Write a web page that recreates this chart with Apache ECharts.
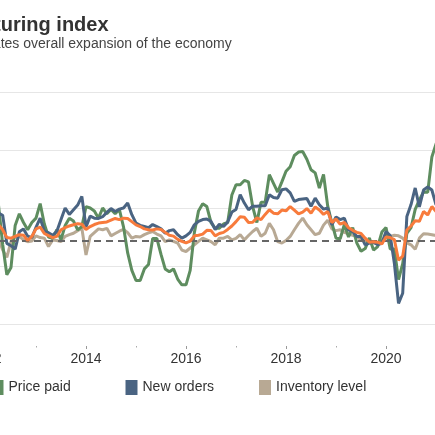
<!DOCTYPE html>
<html>
<head>
<meta charset="utf-8">
<script src="https://cdn.jsdelivr.net/npm/echarts@6/dist/echarts.min.js"></script>
<style>
  html, body { margin: 0; padding: 0; background: #fff; overflow: hidden; width: 435px; height: 435px; }
  #chart { position: absolute; left: -150px; top: 0; width: 600px; height: 435px; }
</style>
</head>
<body>
<div id="chart"></div>
<script>
// monthly readings, Jan 2012 .. Feb 2021
const startYear = 2012;
const monthCount = 110;
const months = [];
for (let i = 0; i < monthCount; i++) {
    const y = startYear + Math.floor(i / 12);
    const m = (i % 12) + 1;
    months.push(y + '-' + (m < 10 ? '0' + m : m));
}

const seriesNames = ['PMI', 'Price paid', 'New orders', 'Inventory level'];

const pmi = [
    54.5, 53.5, 53.5, 54.2, 52.5, 49.8, 49.6, 50.2, 50.8, 50.6, 48.8, 50.2,
    52.8, 53.4, 51.2, 50.5, 49.8, 50.2, 52.5, 53.2, 53.8, 54.2, 54.6, 54.4,
    52.6, 53.6, 54.3, 54.8, 55.0, 55.2, 55.8, 56.4, 56.0, 56.5, 56.4, 55.3,
    54.2, 53.6, 52.8, 52.5, 52.4, 52.8, 52.6, 51.6, 50.6, 50.3, 49.2, 48.5,
    48.0, 48.6, 50.4, 50.6, 51.0, 52.3, 52.2, 50.4, 51.2, 51.6, 52.6, 53.8,
    55.3, 57.0, 56.8, 55.0, 55.1, 56.6, 56.0, 57.8, 59.4, 58.2, 58.0, 59.3,
    59.0, 60.5, 59.3, 58.0, 58.6, 59.8, 58.2, 60.4, 59.3, 57.8, 58.8, 55.0,
    56.2, 54.4, 55.0, 53.2, 52.3, 51.6, 51.2, 49.6, 48.2, 48.4, 48.2, 47.6,
    50.0, 49.8, 49.1, 42.0, 43.4, 52.4, 53.8, 55.6, 55.4, 58.8, 57.6, 60.5,
    58.8, 60.8
];

const pricePaid = [
    55.5, 61.5, 61.0, 61.0, 47.5, 37.0, 39.5, 54.0, 58.0, 55.0, 52.5, 55.0,
    56.5, 61.5, 54.5, 50.0, 49.5, 52.5, 49.0, 54.0, 56.5, 55.5, 52.5, 53.5,
    60.5, 60.0, 59.0, 56.5, 60.0, 58.0, 59.5, 58.0, 59.5, 53.5, 44.5, 38.5,
    35.0, 35.0, 39.0, 40.5, 49.5, 49.5, 44.0, 39.0, 38.0, 39.0, 35.5, 33.5,
    33.5, 38.5, 51.5, 59.0, 61.5, 60.5, 55.0, 53.0, 53.0, 54.5, 55.0, 64.5,
    68.0, 68.0, 69.5, 69.0, 60.5, 55.0, 62.0, 62.0, 71.5, 68.5, 65.5, 69.0,
    72.7, 74.2, 78.1, 79.3, 79.5, 76.8, 73.2, 72.1, 66.9, 71.6, 60.7, 54.9,
    49.6, 49.4, 54.3, 50.0, 53.2, 47.9, 45.1, 46.0, 49.7, 45.5, 46.7, 51.7,
    53.3, 45.9, 45.9, 35.3, 40.8, 51.3, 53.2, 59.5, 62.8, 65.5, 65.4, 77.6,
    82.1, 86.0
];

const newOrders = [
    57.6, 54.9, 54.5, 58.2, 57.5, 47.8, 47.0, 45.8, 51.8, 52.8, 50.3, 49.8,
    53.3, 56.5, 52.0, 51.5, 50.6, 52.0, 56.0, 60.0, 57.8, 59.4, 61.0, 64.0,
    53.5, 57.2, 56.5, 56.4, 57.0, 58.5, 59.8, 58.8, 59.6, 60.0, 61.7, 57.7,
    54.8, 54.0, 53.6, 53.2, 54.3, 53.6, 52.8, 51.3, 52.2, 52.5, 50.8, 49.6,
    50.4, 51.6, 54.2, 55.4, 56.0, 56.2, 55.4, 52.6, 54.4, 53.6, 55.2, 58.6,
    59.5, 64.6, 61.7, 59.4, 60.6, 60.6, 60.8, 60.8, 64.6, 63.6, 63.4, 66.3,
    66.6, 65.2, 62.3, 62.9, 63.1, 63.3, 60.6, 63.4, 61.1, 59.6, 60.0, 54.2,
    56.9, 56.0, 56.5, 52.5, 51.9, 50.2, 50.2, 47.3, 47.9, 48.2, 47.3, 47.9,
    51.9, 50.5, 40.9, 27.1, 30.6, 57.1, 61.2, 66.9, 60.4, 66.2, 67.3, 66.2,
    61.1, 64.8
];

const inventory = [
    51.0, 50.5, 51.5, 49.6, 45.5, 43.0, 48.5, 50.0, 50.2, 49.0, 48.4, 48.6,
    50.4, 49.8, 49.6, 46.7, 49.0, 48.8, 48.4, 50.2, 50.8, 51.3, 52.2, 53.0,
    43.8, 50.2, 51.5, 52.8, 52.5, 53.0, 50.4, 51.2, 52.0, 52.6, 51.5, 49.6,
    50.2, 50.0, 50.8, 51.4, 51.9, 51.0, 50.4, 48.4, 49.0, 48.5, 47.9, 45.5,
    45.0, 46.2, 47.3, 48.5, 49.6, 49.0, 48.4, 47.3, 49.6, 49.6, 50.2, 49.0,
    49.5, 50.8, 49.0, 50.5, 51.9, 53.0, 50.2, 51.3, 54.7, 52.5, 48.4, 47.9,
    48.8, 50.2, 52.5, 54.7, 56.5, 54.2, 52.5, 50.8, 51.3, 54.1, 55.8, 52.8,
    52.2, 52.5, 51.6, 51.1, 50.6, 50.2, 49.0, 48.6, 48.4, 47.9, 48.0, 49.0,
    49.6, 50.2, 50.6, 50.4, 49.6, 48.0, 47.3, 45.8, 49.6, 51.1, 51.0, 50.8,
    50.5, 50.8
];

// dashed reference level as it sits in the picture
const expansionLevel = 48.6;

const titleText = 'Manufacturing index';
const subtitleText = 'Above 50 indicates overall expansion of the economy';

const fontFamily = '"Liberation Sans", Arial, Helvetica, sans-serif';
const colors = ['#f87b3c', '#5e8d5f', '#4a6482', '#b8a994'];
const legendLeft = [8, 141.5, 275.5, 409];

const isEvenJan = function (i) { return i % 12 === 0 && Math.floor(i / 12) % 2 === 0; };
const isOddJan = function (i) { return i % 12 === 0 && Math.floor(i / 12) % 2 === 1; };

const chart = echarts.init(document.getElementById('chart'), null, { renderer: 'canvas' });

function lineSeries(name, data, color, z) {
    return {
        name: name,
        type: 'line',
        xAxisIndex: 0,
        yAxisIndex: 0,
        data: data,
        symbol: 'none',
        smooth: false,
        z: z,
        lineStyle: { color: color, width: 3 },
        itemStyle: { color: color },
        emphasis: { disabled: true }
    };
}

const tanSeries = lineSeries(seriesNames[3], inventory, colors[3], 2);
tanSeries.markLine = {
    silent: true,
    symbol: 'none',
    label: { show: false },
    lineStyle: { type: [7, 5], color: '#666', width: 1.8 },
    data: [{ yAxis: expansionLevel }]
};

// plot area, and a taller twin whose bottom edge carries the year axis
const plotBox = { left: 136, right: 9.8, top: 92, bottom: 111 };
const axisBox = { left: 136, right: 9.8, top: 92, bottom: 89 };

function tickAxis(gridIndex, tickInterval, tickLength, tickColor, showLabel) {
    return {
        type: 'category',
        gridIndex: gridIndex,
        data: months,
        boundaryGap: false,
        axisLine: { show: false },
        axisTick: {
            interval: tickInterval,
            length: tickLength,
            lineStyle: { color: tickColor }
        },
        axisLabel: {
            show: showLabel,
            interval: isEvenJan,
            formatter: function (v) { return v.slice(0, 4); },
            fontSize: 14,
            color: '#333',
            margin: 6,
            fontFamily: fontFamily
        },
        splitLine: { show: false }
    };
}

function hiddenY(gridIndex) {
    return { type: 'value', gridIndex: gridIndex, min: 20, max: 100, interval: 20, show: false };
}

const options = {
    animation: false,
    backgroundColor: '#fff',
    textStyle: { fontFamily: fontFamily },
    graphic: [{
        type: 'text',
        left: 63,
        top: 15,
        silent: true,
        style: { text: titleText, font: 'bold 20px ' + fontFamily, fill: '#333' }
    }, {
        type: 'text',
        left: 51,
        top: 37.5,
        silent: true,
        style: { text: subtitleText, font: '14px ' + fontFamily, fill: '#444' }
    }],
    legend: seriesNames.map(function (name, i) {
        return {
            data: [name],
            left: legendLeft[i],
            top: 380,
            padding: 0,
            icon: 'rect',
            itemWidth: 12,
            itemHeight: 15,
            selectedMode: false,
            textStyle: { fontSize: 14, color: '#333', fontFamily: fontFamily }
        };
    }),
    grid: [plotBox, axisBox, axisBox],
    xAxis: [
        { type: 'category', gridIndex: 0, data: months, boundaryGap: false, show: false },
        tickAxis(1, isEvenJan, 3, '#999', true),
        tickAxis(2, isOddJan, 1.5, '#aaa', false)
    ],
    yAxis: [{
        type: 'value',
        gridIndex: 0,
        min: 20,
        max: 100,
        interval: 20,
        axisLine: { show: false },
        axisTick: { show: false },
        axisLabel: { show: false },
        splitLine: { lineStyle: { color: '#e6e6e6', width: 1 } }
    }, hiddenY(1), hiddenY(2)],
    series: [
        tanSeries,
        lineSeries(seriesNames[1], pricePaid, colors[1], 3),
        lineSeries(seriesNames[2], newOrders, colors[2], 4),
        lineSeries(seriesNames[0], pmi, colors[0], 5)
    ]
};

chart.setOption(options);
</script>
</body>
</html>
